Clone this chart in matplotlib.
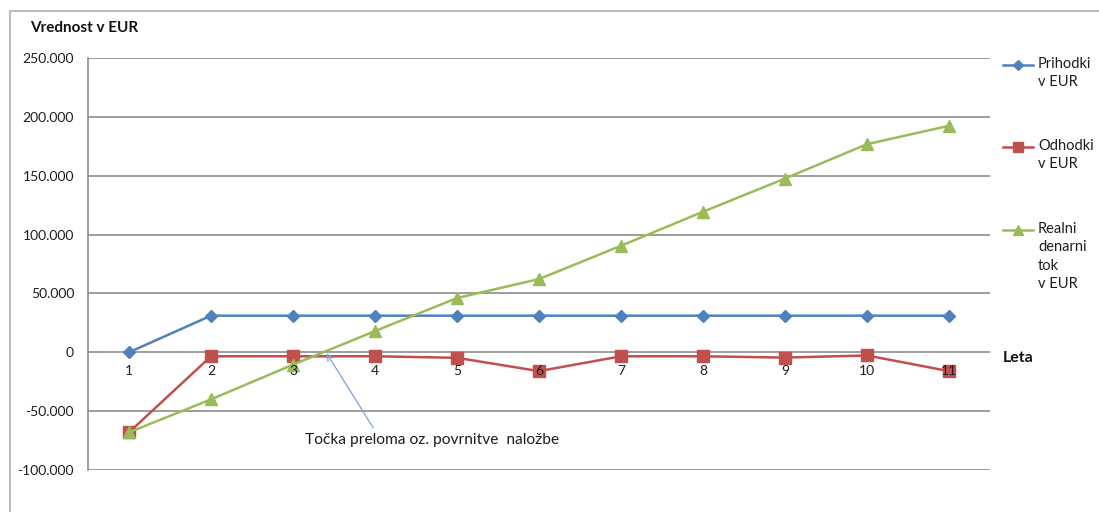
import matplotlib.pyplot as plt
from matplotlib.lines import Line2D
from matplotlib.patches import Rectangle
from matplotlib.ticker import FuncFormatter

plt.rcParams['font.family'] = ['Lato', 'DejaVu Sans']

leta = [1, 2, 3, 4, 5, 6, 7, 8, 9, 10, 11]
prihodki = [0, 31100, 31100, 31100, 31100, 31100, 31100, 31100, 31100, 31100, 31100]
odhodki = [-68000, -3400, -3400, -3400, -4700, -16000, -3400, -3400, -4500, -2700, -16000]
realni_tok = [-68000, -40000, -10500, 18000, 46100, 62200, 90500, 119400, 147600, 176800, 192400]

y_ticks = [-100000, -50000, 0, 50000, 100000, 150000, 200000, 250000]

BLUE = '#4F81BD'
RED = '#C0504D'
GREEN = '#9BBB59'
GRID = '#8C8C8C'
TXT = '#1E1E1E'

W, H = 1099, 512
fig = plt.figure(figsize=(W / 100, H / 100), dpi=100)

def fx(px):
    return px / W

def fy(py):
    return 1 - py / H

# outer chart frame
fig.add_artist(Rectangle((fx(10), fy(530)), fx(1200), fy(11) - fy(530),
                         transform=fig.transFigure, fill=False,
                         edgecolor='#B0B0B0', linewidth=1.2))

ax = fig.add_axes([fx(88), fy(470), fx(990) - fx(88), fy(58) - fy(470)])

ax.plot(leta, prihodki, color=BLUE, linewidth=1.8, marker='D', markersize=6.5,
        label='Prihodki\nv EUR', zorder=3)
ax.plot(leta, odhodki, color=RED, linewidth=1.8, marker='s', markersize=9,
        label='Odhodki\nv EUR', zorder=3)
ax.plot(leta, realni_tok, color=GREEN, linewidth=1.8, marker='^', markersize=9,
        label='Realni\ndenarni\ntok\nv EUR', zorder=4)

ax.set_xlim(0.5, 11.5)
ax.set_ylim(-100000, 250000)
ax.set_yticks(y_ticks)
ax.yaxis.set_major_formatter(FuncFormatter(lambda v, p: f'{int(v):,}'.replace(',', '.')))
ax.set_xticks([])

ax.grid(axis='y', color=GRID, linewidth=1.2)
ax.set_axisbelow(True)
for side in ['top', 'right', 'bottom']:
    ax.spines[side].set_visible(False)
ax.spines['left'].set_color(GRID)
ax.spines['left'].set_linewidth(1.2)
ax.tick_params(axis='y', length=0, pad=10, labelsize=10, labelcolor=TXT)

# year labels sit just under the zero line, on top of the markers
for v in leta:
    ax.annotate(str(v), xy=(v, 0), xytext=(0, -9.5), textcoords='offset points',
                ha='center', va='top', fontsize=10, color=TXT, zorder=6)

ax.annotate('Točka preloma oz. povrnitve  naložbe', xy=(3.41, -800), xytext=(3.15, -74500),
            ha='left', va='center', fontsize=11.2, color=TXT,
            arrowprops=dict(arrowstyle='->', color='#7FA2D0', linewidth=0.9,
                            relpos=(0.28, 1.0), shrinkA=2, shrinkB=0))

fig.text(fx(30), fy(28), 'Vrednost v EUR', fontsize=11, fontweight='bold',
         ha='left', va='center', color='#111111')
fig.text(fx(1003), fy(358), 'Leta', fontsize=11.5, fontweight='bold',
         ha='left', va='center', color='#111111')

# legend entries drawn beside the plot, handle next to the first text line
for line, y0 in zip(ax.get_lines(), [65, 147, 230]):
    fig.add_artist(Line2D([fx(1003), fx(1033)], [fy(y0), fy(y0)], transform=fig.transFigure,
                          color=line.get_color(), linewidth=1.8))
    fig.add_artist(Line2D([fx(1018)], [fy(y0)], transform=fig.transFigure,
                          color=line.get_color(), marker=line.get_marker(),
                          markersize=line.get_markersize() * 0.8, linestyle='none'))
    fig.text(fx(1038), fy(y0 - 8), line.get_label(), fontsize=10.5, ha='left', va='top',
             linespacing=1.4, color=TXT)

fig.savefig('out.png', dpi=100)
